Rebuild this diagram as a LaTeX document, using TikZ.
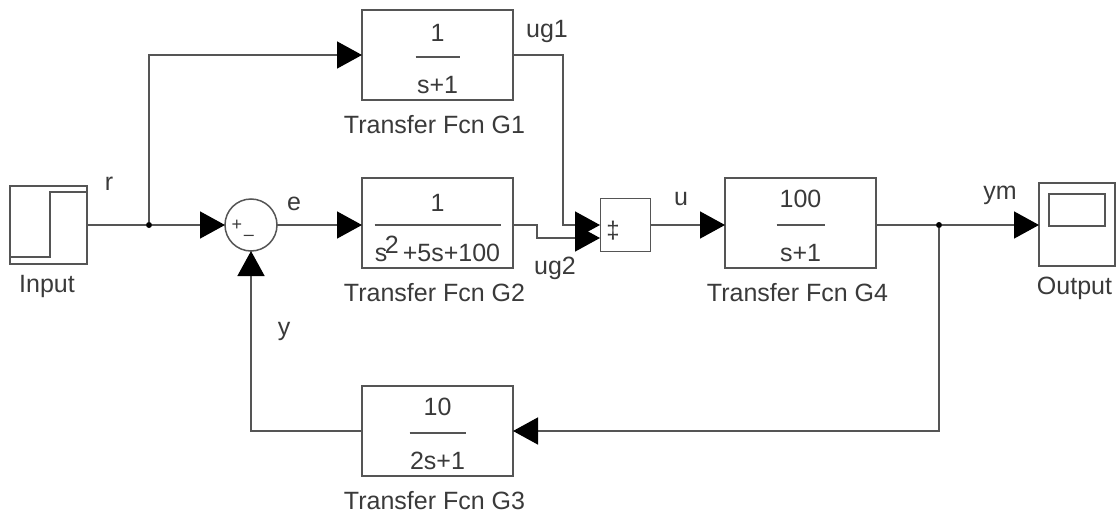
\documentclass[tikz,border=0pt]{standalone}
\usepackage{fontspec}
\setmainfont{Liberation Sans}
\usetikzlibrary{arrows.meta}
\definecolor{wire}{HTML}{555555}
\definecolor{ink}{HTML}{3A3A3A}
\tikzset{
  x=1pt,y=-1pt,
  block/.style={draw=wire,line width=1.5pt,fill=white,inner sep=0pt,outer sep=0pt},
  wirepath/.style={draw=wire,line width=1.5pt},
  flow/.style={wirepath,-{Triangle[length=25pt,width=27pt,color=black]}},
  lbl/.style={text=ink,font=\fontsize{25}{25}\selectfont,inner sep=0pt},
  dotj/.style={circle,fill=black,inner sep=0pt,minimum size=6pt},
  bar/.style={draw=wire,line width=1.5pt}
}
\newcommand{\tfblock}[9]{% name, cx, cy, num, den, barhalf, caption, numoffset, capdx
  \node[block,minimum width=151pt,minimum height=90pt] (#1) at (#2,#3) {};
  \node[lbl] (#1n) at (#2,#3+#8) {#4};
  \node[lbl] (#1d) at (#2,#3+30) {#5};
  \coordinate (#1a) at (#2-#6,#3+2);
  \coordinate (#1b) at (#2+#6,#3+2);
  \draw[bar] (#1a) -- (#1b);
  \node[lbl] (#1c) at (#2+#9,#3+70) {#7};
}
\begin{document}
\begin{tikzpicture}
\useasboundingbox (0,0) rectangle (1116,511);
\tfblock{gone}{437.5}{55}{1}{s+1}{22}{Transfer Fcn G1}{-22}{-3}
\tfblock{gtwo}{437.5}{223}{1}{s\hspace{-2.5pt}\smash{\raisebox{8pt}{2}}\hspace{4pt}+5s+100}{63}{Transfer Fcn G2}{-20}{-3}
\tfblock{gthree}{437.5}{431}{10}{2s+1}{28}{Transfer Fcn G3}{-24}{-3}
\tfblock{gfour}{800.5}{223}{100}{s+1}{24}{Transfer Fcn G4}{-24}{-3}
% input
\node[block,minimum width=77pt,minimum height=78pt] (input) at (48.5,225) {};
\coordinate (sa) at (11,257);
\coordinate (sb) at (50,257);
\coordinate (sc) at (50,192);
\coordinate (sd) at (86,192);
\draw[wirepath] (sa) -- (sb) -- (sc) -- (sd);
\node[lbl] (inputc) at (47,286) {Input};
% sum
\node[block,circle,minimum size=52pt] (sum) at (251,225) {};
\node[lbl,font=\fontsize{18}{18}\selectfont] (plus) at (237,225) {+};
\node[lbl,font=\fontsize{18}{18}\selectfont] (minus) at (249,238) {–};
% mux
\node[block,minimum width=50pt,minimum height=53pt] (mux) at (625.5,225) {};
\node[lbl,font=\fontsize{24}{24}\selectfont] (muxs) at (613,231) {‡};
% scope
\node[block,minimum width=76pt,minimum height=83pt] (scope) at (1077,224.5) {};
\node[block,minimum width=56pt,minimum height=32pt] (screen) at (1077,210) {};
\node[lbl] (outc) at (1074.5,288) {Output};
% junctions
\node[dotj] (jr) at (149,225) {};
\node[dotj] (jy) at (939,225) {};
% helper coordinates
\coordinate (mone) at (600,225);
\coordinate (mtwo) at (600,238);
\coordinate (gone out) at (513,55);
\coordinate (gtwo out) at (513,225);
\coordinate (gone in) at (362,55);
\coordinate (gtwo in) at (362,225);
\coordinate (gthree in) at (513,431);
\coordinate (gthree out) at (362,431);
\coordinate (gfour in) at (725,225);
\coordinate (gfour out) at (876,225);
\coordinate (mux out) at (651,225);
\coordinate (scope in) at (1039,225);
\coordinate (input out) at (87,225);
% connectors
\draw[wirepath] (input out) -- (jr);
\draw[flow] (jr) -- (sum.west);
\draw[flow] (jr) -- (149,55) -- (gone in);
\draw[flow] (sum.east) -- (gtwo in);
\draw[flow] (gone out) -- (563,55) -- (563,225) -- (mone);
\draw[flow] (gtwo out) -- (537,225) -- (537,238) -- (mtwo);
\draw[flow] (mux out) -- (gfour in);
\draw[wirepath] (gfour out) -- (jy);
\draw[flow] (jy) -- (scope in);
\draw[flow] (jy) -- (939,431) -- (gthree in);
\draw[flow] (gthree out) -- (251,431) -- (sum.south);
% labels
\node[lbl] (lr) at (109,184) {r};
\node[lbl] (le) at (294,204) {e};
\node[lbl] (ly) at (284,331) {y};
\node[lbl] (lug1) at (547,31) {ug1};
\node[lbl] (lug2) at (555,268) {ug2};
\node[lbl] (lu) at (681,199) {u};
\node[lbl] (lym) at (1000,195) {ym};
\end{tikzpicture}
\end{document}
